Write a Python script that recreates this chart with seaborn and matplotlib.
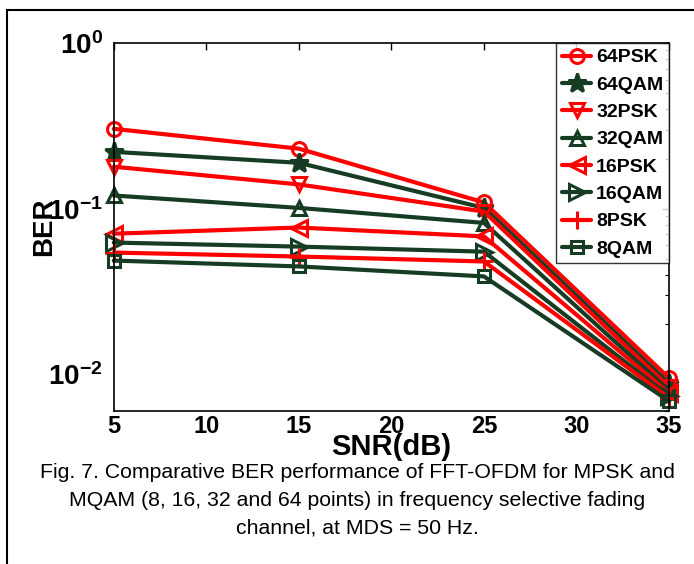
import numpy as np
import pandas as pd
import matplotlib
matplotlib.use("Agg")
import matplotlib.pyplot as plt
import seaborn as sns
from matplotlib.patches import Rectangle
from matplotlib.ticker import LogLocator, FixedLocator

# ── Data ──────────────────────────────────────────────────────────────────────
snr_db = [5, 15, 25, 35]
schemes = ["64PSK", "64QAM", "32PSK", "32QAM", "16PSK", "16QAM", "8PSK", "8QAM"]
ber_64psk = [0.303, 0.230, 0.109, 0.0095]
ber_64qam = [0.220, 0.189, 0.101, 0.0088]
ber_32psk = [0.179, 0.140, 0.096, 0.0084]
ber_32qam = [0.120, 0.101, 0.082, 0.0080]
ber_16psk = [0.0706, 0.0769, 0.068, 0.0077]
ber_16qam = [0.0624, 0.0590, 0.055, 0.0074]
ber_8psk = [0.0543, 0.0514, 0.048, 0.0072]
ber_8qam = [0.0486, 0.0448, 0.039, 0.0069]
x_ticks = [5, 10, 15, 20, 25, 30, 35]
caption = ("Fig. 7. Comparative BER performance of FFT-OFDM for MPSK and\n"
           "MQAM (8, 16, 32 and 64 points) in frequency selective fading\n"
           "channel, at MDS = 50 Hz.")

series = [ber_64psk, ber_64qam, ber_32psk, ber_32qam,
          ber_16psk, ber_16qam, ber_8psk, ber_8qam]
df = pd.DataFrame({
    "snr": snr_db * len(schemes),
    "ber": [v for s in series for v in s],
    "scheme": [name for name in schemes for _ in snr_db],
})

# ── Style ─────────────────────────────────────────────────────────────────────
RED = "#ff0000"
GREEN = "#163d24"
colors = [RED, GREEN] * 4
markers = ["o", "*", "v", "^", "<", ">", "+", "s"]
msizes = [10, 14, 10, 10, 11, 11, 13, 8]

sns.set_style("white")
plt.rcParams["font.family"] = ["Liberation Sans", "DejaVu Sans"]
plt.rcParams["mathtext.fontset"] = "custom"
plt.rcParams["mathtext.bf"] = "Liberation Sans:bold"
plt.rcParams["mathtext.default"] = "bf"
plt.rcParams["axes.unicode_minus"] = False
plt.rcParams["text.color"] = "black"
plt.rcParams["xtick.color"] = "black"
plt.rcParams["ytick.color"] = "black"
plt.rcParams["axes.labelcolor"] = "black"

fig = plt.figure(figsize=(6.94, 5.64), dpi=100)
ax = fig.add_axes([0.164, 0.271, 0.800, 0.653])

for name, col, mk, ms in zip(schemes, colors, markers, msizes):
    sub = df[df["scheme"] == name]
    sns.lineplot(data=sub, x="snr", y="ber", ax=ax, color=col, linewidth=3,
                 marker=mk, markersize=ms, markeredgecolor=col,
                 markerfacecolor=col if mk == "*" else "none",
                 markeredgewidth=2.2, label=name, clip_on=False)

ax.set_yscale("log")
ax.set_xlim(5, 35)
ax.set_ylim(0.006, 1.0)
ax.xaxis.set_major_locator(FixedLocator(x_ticks))
ax.yaxis.set_major_locator(LogLocator(base=10, numticks=10))
ax.yaxis.set_minor_locator(LogLocator(base=10, subs=np.arange(2, 10), numticks=10))
ax.tick_params(axis="both", which="both", direction="in", top=True, right=True)
ax.tick_params(axis="x", which="major", length=5, width=1, labelsize=17, pad=3)
ax.tick_params(axis="y", which="major", length=5, width=1, labelsize=20, pad=8)
ax.tick_params(axis="y", which="minor", length=3, width=0.8)
for lbl in ax.get_xticklabels() + ax.get_yticklabels():
    lbl.set_fontweight("bold")
for sp in ax.spines.values():
    sp.set_linewidth(1.2)
    sp.set_color("black")

ax.set_xlabel("SNR(dB)", fontsize=21, fontweight="bold", labelpad=-4)
ax.set_ylabel("BER", fontsize=20, fontweight="bold", labelpad=-7)

leg = ax.legend(loc="upper right", bbox_to_anchor=(1.0, 1.0),
                prop={"weight": "bold", "size": 14}, frameon=True, fancybox=False,
                borderaxespad=0, handlelength=1.5, handletextpad=0.25,
                labelspacing=0.5, borderpad=0.3)
leg.get_frame().set_edgecolor("black")
leg.get_frame().set_linewidth(1.0)

fig.text(0.515, 0.113, caption, ha="center", va="center", fontsize=15.3,
         linespacing=1.58)
fig.patches.append(Rectangle((7 / 694, -0.1), 1.2, 1 - 10 / 564 + 0.1,
                             transform=fig.transFigure, fill=False,
                             edgecolor="black", linewidth=1.5))

fig.savefig("out.png", dpi=100)
